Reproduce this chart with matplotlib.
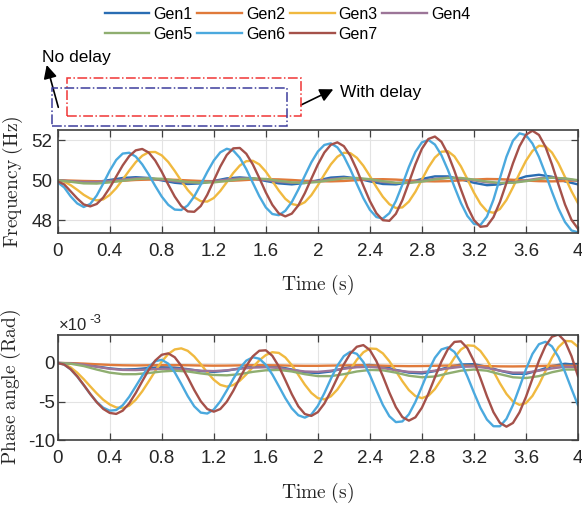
import numpy as np
import matplotlib
matplotlib.use('Agg')
import matplotlib.pyplot as plt
from matplotlib.patches import Rectangle

plt.rcParams['font.family'] = ['Liberation Sans', 'DejaVu Sans']
plt.rcParams['mathtext.fontset'] = 'cm'
plt.rcParams['axes.unicode_minus'] = False

# sample times
t_fine = np.round(np.arange(0, 4.001, 0.05), 2)
t_coarse = np.round(np.arange(0, 4.001, 0.1), 1)

names = ['Gen1', 'Gen2', 'Gen3', 'Gen4', 'Gen5', 'Gen6', 'Gen7']
colors = ['#2a6db3', '#e07a3a', '#f0b93f', '#9c7598', '#8fae70', '#4ba9de', '#a5514a']

# ---- frequency (Hz) ----
f_gen1 = [50.0, 49.95, 49.9, 49.92, 50.02, 50.12, 50.16, 50.12, 50.0, 49.88,
          49.82, 49.85, 49.97, 50.1, 50.15, 50.1, 49.97, 49.85, 49.8, 49.87,
          50.0, 50.14, 50.18, 50.1, 49.95, 49.82, 49.8, 49.9, 50.07, 50.2,
          50.2, 50.05, 49.88, 49.76, 49.8, 49.98, 50.2, 50.28, 50.18, 49.95, 49.8]
f_gen2 = [50.0, 49.99, 49.97, 49.96, 49.96, 49.98, 50.02, 50.04, 50.05, 50.03,
          50.0, 49.97, 49.96, 49.97, 50.0, 50.04, 50.06, 50.05, 50.02, 49.98,
          49.96, 49.95, 49.97, 50.01, 50.05, 50.06, 50.04, 50.0, 49.96, 49.95,
          49.96, 50.0, 50.04, 50.07, 50.06, 50.03, 49.99, 49.96, 49.95, 49.97, 50.0]
f_gen4 = [50.0, 49.96, 49.92, 49.92, 49.97, 50.04, 50.1, 50.1, 50.04, 49.95,
          49.9, 49.9, 49.96, 50.04, 50.1, 50.09, 50.02, 49.93, 49.88, 49.9,
          49.97, 50.06, 50.12, 50.1, 50.02, 49.92, 49.87, 49.9, 49.98, 50.08,
          50.13, 50.1, 50.0, 49.9, 49.86, 49.9, 50.0, 50.1, 50.14, 50.08, 49.98]
f_gen5 = [50.0, 49.93, 49.85, 49.84, 49.9, 49.98, 50.06, 50.1, 50.08, 50.0,
          49.92, 49.88, 49.9, 49.97, 50.06, 50.1, 50.07, 49.98, 49.9, 49.87,
          49.92, 50.02, 50.1, 50.12, 50.06, 49.96, 49.88, 49.87, 49.94, 50.05,
          50.12, 50.12, 50.04, 49.94, 49.87, 49.88, 49.96, 50.07, 50.13, 50.1, 50.01]
f_gen3 = [50.00, 49.94, 49.76, 49.53, 49.28, 49.09, 49.00, 49.05, 49.27, 49.61,
          50.04, 50.49, 50.91, 51.23, 51.41, 51.42, 51.25, 50.92, 50.47, 49.98,
          49.52, 49.16, 48.96, 48.94, 49.12, 49.47, 49.91, 50.37, 50.74, 50.96,
          50.98, 50.80, 50.44, 49.97, 49.49, 49.08, 48.82, 48.75, 48.91, 49.26,
          49.75, 50.29, 50.80, 51.18, 51.38, 51.36, 51.13, 50.73, 50.22, 49.67,
          49.18, 48.81, 48.62, 48.65, 48.94, 49.43, 50.04, 50.65, 51.14, 51.43,
          51.46, 51.20, 50.70, 50.06, 49.39, 48.83, 48.46, 48.38, 48.57, 49.02,
          49.65, 50.34, 50.98, 51.47, 51.73, 51.70, 51.39, 50.85, 50.17, 49.46, 48.86]
f_gen6 = [49.90, 49.65, 49.20, 48.85, 48.67, 48.82, 49.24, 49.84, 50.48, 51.02,
          51.34, 51.38, 51.19, 50.80, 50.29, 49.72, 49.19, 48.78, 48.54, 48.52,
          48.75, 49.20, 49.79, 50.42, 50.99, 51.40, 51.58, 51.49, 51.13, 50.56,
          49.88, 49.21, 48.65, 48.32, 48.26, 48.48, 48.92, 49.54, 50.23, 50.90,
          51.44, 51.77, 51.85, 51.65, 51.20, 50.55, 49.82, 49.11, 48.53, 48.17,
          48.09, 48.36, 48.97, 49.79, 50.67, 51.42, 51.90, 52.02, 51.79, 51.26,
          50.52, 49.68, 48.87, 48.22, 47.83, 47.77, 48.19, 49.03, 50.11, 51.18,
          51.98, 52.35, 52.26, 51.84, 51.17, 50.33, 49.43, 48.59, 47.92, 47.50, 47.40]
f_gen7 = [49.95, 49.80, 49.45, 49.10, 48.80, 48.70, 48.82, 49.14, 49.63, 50.19,
          50.75, 51.21, 51.50, 51.57, 51.39, 50.99, 50.43, 49.79, 49.19, 48.72,
          48.45, 48.43, 48.72, 49.28, 49.99, 50.69, 51.27, 51.60, 51.62, 51.33,
          50.80, 50.12, 49.40, 48.78, 48.35, 48.20, 48.34, 48.75, 49.36, 50.08,
          50.79, 51.39, 51.78, 51.90, 51.71, 51.23, 50.53, 49.73, 48.97, 48.36,
          48.01, 47.98, 48.33, 49.01, 49.89, 50.80, 51.58, 52.07, 52.19, 51.93,
          51.32, 50.48, 49.55, 48.68, 48.02, 47.68, 47.72, 48.16, 48.92, 49.87,
          50.85, 51.70, 52.28, 52.48, 52.27, 51.68, 50.80, 49.79, 48.80, 48.03, 47.58]

# ---- phase angle, in units of 1e-3 rad ----
p_gen1 = [0, -0.05, -0.2, -0.45, -0.7, -0.85, -0.8, -0.65, -0.55, -0.6,
          -0.8, -1.05, -1.15, -1.0, -0.7, -0.45, -0.35, -0.5, -0.85, -1.2,
          -1.3, -1.1, -0.7, -0.35, -0.25, -0.45, -0.9, -1.25, -1.35, -1.05,
          -0.55, -0.2, -0.15, -0.5, -1.0, -1.4, -1.4, -0.95, -0.4, -0.1, -0.25]
p_gen2 = [0, -0.02, -0.08, -0.17, -0.25, -0.3, -0.32, -0.3, -0.28, -0.28,
          -0.3, -0.33, -0.35, -0.34, -0.31, -0.29, -0.29, -0.31, -0.35, -0.37,
          -0.37, -0.34, -0.31, -0.3, -0.31, -0.35, -0.39, -0.41, -0.4, -0.36,
          -0.33, -0.33, -0.36, -0.4, -0.44, -0.45, -0.43, -0.39, -0.35, -0.35, -0.38]
p_gen4 = [0, -0.05, -0.22, -0.5, -0.75, -0.9, -0.92, -0.85, -0.75, -0.75,
          -0.85, -1.0, -1.05, -0.95, -0.75, -0.6, -0.55, -0.65, -0.9, -1.1,
          -1.15, -1.0, -0.75, -0.55, -0.5, -0.65, -0.95, -1.15, -1.2, -1.0,
          -0.7, -0.5, -0.45, -0.65, -1.0, -1.25, -1.25, -1.0, -0.7, -0.5, -0.55]
p_gen5 = [0, -0.1, -0.4, -0.85, -1.25, -1.45, -1.45, -1.3, -1.1, -1.0,
          -1.1, -1.35, -1.55, -1.6, -1.45, -1.15, -0.95, -0.9, -1.1, -1.45,
          -1.7, -1.7, -1.45, -1.1, -0.9, -0.95, -1.25, -1.65, -1.85, -1.75,
          -1.35, -1.0, -0.85, -1.0, -1.45, -1.85, -1.95, -1.7, -1.2, -0.85, -0.85]
p_gen3 = [0.00, -0.15, -0.58, -1.25, -2.09, -3.02, -3.93, -4.75, -5.37, -5.75,
          -5.84, -5.52, -4.76, -3.67, -2.38, -1.04, 0.19, 1.16, 1.75, 1.89,
          1.57, 0.84, -0.15, -1.22, -2.17, -2.83, -3.06, -2.86, -2.30, -1.48,
          -0.55, 0.34, 1.02, 1.39, 1.30, 0.72, -0.28, -1.53, -2.80, -3.87,
          -4.55, -4.71, -4.32, -3.44, -2.21, -0.85, 0.42, 1.38, 1.87, 1.82,
          1.24, 0.22, -1.05, -2.36, -3.51, -4.28, -4.55, -4.24, -3.38, -2.11,
          -0.67, 0.69, 1.74, 2.28, 2.22, 1.55, 0.39, -1.08, -2.63, -4.00,
          -4.98, -5.42, -5.19, -4.26, -2.79, -1.05, 0.67, 2.05, 2.85, 2.80, 2.10]
p_gen6 = [0.00, -0.21, -0.83, -1.75, -2.87, -4.01, -5.03, -5.78, -6.17, -6.09,
          -5.47, -4.38, -3.03, -1.66, -0.50, 0.23, 0.41, -0.09, -1.21, -2.71,
          -4.29, -5.61, -6.42, -6.54, -6.02, -4.97, -3.56, -2.05, -0.68, 0.30,
          0.74, 0.55, -0.23, -1.48, -3.00, -4.55, -5.87, -6.76, -7.07, -6.67,
          -5.55, -3.91, -2.06, -0.36, 0.89, 1.45, 1.18, 0.12, -1.56, -3.53,
          -5.43, -6.89, -7.65, -7.56, -6.64, -5.04, -3.06, -1.03, 0.67, 1.75,
          2.02, 1.43, 0.10, -1.75, -3.83, -5.80, -7.32, -8.18, -8.19, -7.23,
          -5.45, -3.17, -0.82, 1.17, 2.43, 2.74, 2.14, 0.77, -1.15, -3.34, -5.47]
p_gen7 = [0.00, -0.21, -0.81, -1.72, -2.83, -4.00, -5.08, -5.94, -6.46, -6.59,
          -6.17, -5.22, -3.89, -2.37, -0.89, 0.31, 1.06, 1.24, 0.74, -0.36,
          -1.87, -3.50, -4.95, -5.95, -6.30, -5.96, -5.01, -3.60, -1.97, -0.40,
          0.86, 1.58, 1.64, 0.93, -0.44, -2.21, -4.04, -5.61, -6.60, -6.85,
          -6.36, -5.25, -3.68, -1.91, -0.18, 1.23, 2.10, 2.31, 1.67, 0.24,
          -1.71, -3.83, -5.71, -7.00, -7.46, -7.03, -5.79, -3.97, -1.87, 0.17,
          1.79, 2.72, 2.80, 1.92, 0.23, -1.97, -4.30, -6.36, -7.75, -8.24,
          -7.76, -6.40, -4.39, -2.03, 0.29, 2.20, 3.39, 3.68, 2.81, 0.89, -1.71]

freq = [f_gen1, f_gen2, f_gen3, f_gen4, f_gen5, f_gen6, f_gen7]
phase = [p_gen1, p_gen2, p_gen3, p_gen4, p_gen5, p_gen6, p_gen7]
times = [t_coarse, t_coarse, t_fine, t_coarse, t_coarse, t_fine, t_fine]
scale = 1e-3

xticks = [0, 0.4, 0.8, 1.2, 1.6, 2, 2.4, 2.8, 3.2, 3.6, 4]
xtick_labels = ['0', '0.4', '0.8', '1.2', '1.6', '2', '2.4', '2.8', '3.2', '3.6', '4']

fig = plt.figure(figsize=(5.82, 5.08), dpi=100)
ax1 = fig.add_axes([0.0991, 0.5413, 0.894, 0.2033])
ax2 = fig.add_axes([0.0991, 0.1333, 0.894, 0.2079])

lines = []
for i in range(7):
    ln, = ax1.plot(times[i], freq[i], color=colors[i], lw=1.7, label=names[i])
    ax2.plot(times[i], np.array(phase[i]) * scale, color=colors[i], lw=1.7)
    lines.append(ln)


def style(ax):
    ax.set_xlim(0, 4)
    ax.set_xticks(xticks)
    ax.set_xticklabels(xtick_labels)
    ax.grid(True, color='#e3e3e3', lw=0.8)
    ax.set_axisbelow(True)
    ax.tick_params(direction='in', top=True, right=True, length=5, width=0.9,
                   color='#404040', labelcolor='#262626', labelsize=13.5)
    ax.tick_params(axis='x', pad=7)
    ax.tick_params(axis='y', pad=4)
    for s in ax.spines.values():
        s.set_color('#404040')
        s.set_linewidth(1.2)


style(ax1)
ax1.set_ylim(47.37, 52.53)
ax1.set_yticks([48, 50, 52])
ax1.set_yticklabels(['48', '50', '52'])
ax1.set_xlabel(r'$\mathrm{Time\ (s)}$', fontsize=14, color='#262626')
ax1.set_ylabel(r'$\mathrm{Frequency\ (Hz)}$', fontsize=14, color='#262626')
ax1.xaxis.set_label_coords(0.5, -0.39)
ax1.yaxis.set_label_coords(-0.062, 0.5)

style(ax2)
ax2.set_ylim(-10 * scale, 3.66 * scale)
ax2.set_yticks([-10 * scale, -5 * scale, 0])
ax2.set_yticklabels(['-10', '-5', '0'])
ax2.tick_params(axis='y', pad=2)
ax2.set_xlabel(r'$\mathrm{Time\ (s)}$', fontsize=14, color='#262626')
ax2.set_ylabel(r'$\mathrm{Phase\ angle\ (Rad)}$', fontsize=14, color='#262626')
ax2.xaxis.set_label_coords(0.5, -0.38)
ax2.yaxis.set_label_coords(-0.066, 0.5)

# exponent label
fig.text(59 / 582, 1 - 330 / 508, '\u00d710', fontsize=12, color='#262626', va='baseline')
fig.text(89.5 / 582, 1 - 323 / 508, '-3', fontsize=9.5, color='#262626', va='baseline')

# legend (row-major order)
order = [0, 4, 1, 5, 2, 6, 3]
fig.legend([lines[k] for k in order], [names[k] for k in order],
           loc='center', bbox_to_anchor=(0.494, 0.952), ncol=4, frameon=False,
           fontsize=11.5, handlelength=2.8, handletextpad=0.25, columnspacing=0.3,
           labelspacing=0.3)

# annotation boxes
fig.add_artist(Rectangle((66.7 / 582, 1 - 115.7 / 508), 234.3 / 582, 38 / 508,
                         transform=fig.transFigure, fill=False, ec='#f03535',
                         ls='-.', lw=1.1))
fig.add_artist(Rectangle((52.3 / 582, 1 - 125.7 / 508), 234.4 / 582, 37.4 / 508,
                         transform=fig.transFigure, fill=False, ec='#3d3d9c',
                         ls='-.', lw=1.1))

arrow = dict(arrowstyle='-|>', color='black', lw=1.2, mutation_scale=20,
             shrinkA=0, shrinkB=0)
ax1.annotate('', xy=(46.7 / 582, 1 - 65 / 508), xycoords='figure fraction',
             xytext=(58.3 / 582, 1 - 107.3 / 508), textcoords='figure fraction',
             arrowprops=arrow, annotation_clip=False)
ax1.annotate('', xy=(333.3 / 582, 1 - 89.3 / 508), xycoords='figure fraction',
             xytext=(301 / 582, 1 - 105 / 508), textcoords='figure fraction',
             arrowprops=arrow, annotation_clip=False)
fig.text(42 / 582, 1 - 62 / 508, 'No delay', fontsize=12.5, va='baseline')
fig.text(340 / 582, 1 - 96.5 / 508, 'With delay', fontsize=12.5, va='baseline')

fig.savefig('out.png', dpi=100, facecolor='white')
